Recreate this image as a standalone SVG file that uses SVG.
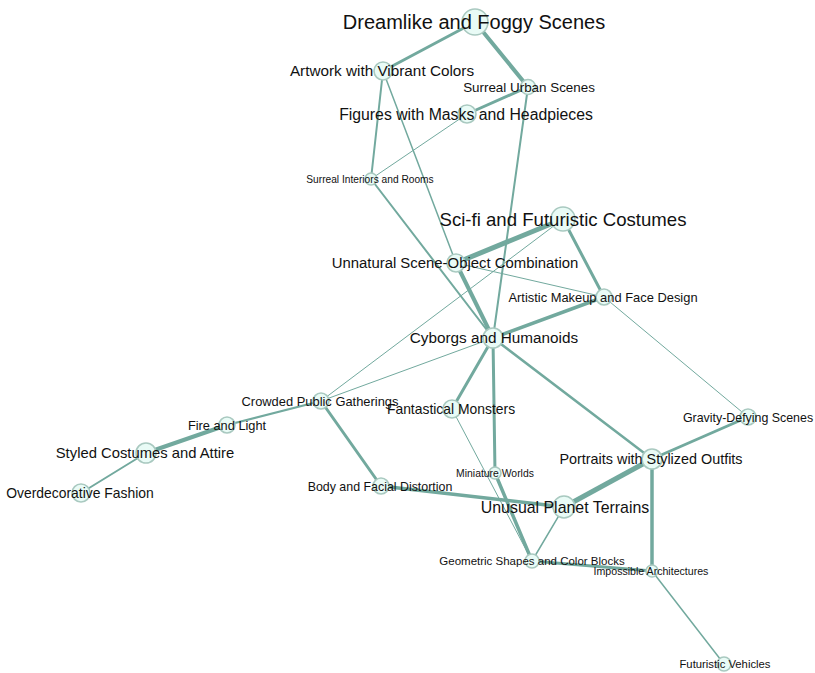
<svg xmlns="http://www.w3.org/2000/svg" width="815" height="673" viewBox="0 0 815 673">
<style>
.e{stroke:#72a99e;fill:none;stroke-linecap:round}
.w1{stroke-width:1}.w15{stroke-width:1.5}.w2{stroke-width:2}.w25{stroke-width:2.5}.w3{stroke-width:3}.w35{stroke-width:3.5}.w4{stroke-width:4}.w5{stroke-width:5}
.n circle{fill:#e9fbf6;stroke:#a9c9c0;stroke-width:1.6}
.n text{font-family:"Liberation Sans",Arial,sans-serif;fill:#111;text-anchor:middle}
</style>
<rect width="815" height="673" fill="#fff"/>
<g id="connectors">
<line class="e w3" x1="475" y1="22" x2="383" y2="71"/>
<line class="e w4" x1="475" y1="22" x2="528" y2="87"/>
<line class="e w3" x1="528" y1="87" x2="467" y2="114"/>
<line class="e w2" x1="383" y1="71" x2="371" y2="179"/>
<line class="e w15" x1="383" y1="71" x2="456" y2="263"/>
<line class="e w1" x1="371" y1="179" x2="467" y2="114"/>
<line class="e w2" x1="371" y1="179" x2="493" y2="338"/>
<line class="e w2" x1="528" y1="87" x2="493" y2="338"/>
<line class="e w5" x1="563" y1="219" x2="456" y2="263"/>
<line class="e w3" x1="563" y1="219" x2="604" y2="297"/>
<line class="e w1" x1="563" y1="219" x2="321" y2="401"/>
<line class="e w1" x1="456" y1="263" x2="604" y2="297"/>
<line class="e w4" x1="456" y1="263" x2="493" y2="338"/>
<line class="e w35" x1="604" y1="297" x2="493" y2="338"/>
<line class="e w1" x1="604" y1="297" x2="748" y2="417"/>
<line class="e w1" x1="493" y1="338" x2="321" y2="401"/>
<line class="e w3" x1="493" y1="338" x2="452" y2="409"/>
<line class="e w3" x1="493" y1="338" x2="495" y2="473"/>
<line class="e w25" x1="493" y1="338" x2="652" y2="459"/>
<line class="e w2" x1="321" y1="401" x2="227" y2="425"/>
<line class="e w4" x1="227" y1="425" x2="146" y2="453"/>
<line class="e w2" x1="146" y1="453" x2="81" y2="493"/>
<line class="e w3" x1="321" y1="401" x2="381" y2="486"/>
<line class="e w35" x1="381" y1="486" x2="564" y2="507"/>
<line class="e w1" x1="452" y1="409" x2="532" y2="561"/>
<line class="e w35" x1="495" y1="473" x2="532" y2="561"/>
<line class="e w3" x1="748" y1="417" x2="652" y2="459"/>
<line class="e w5" x1="652" y1="459" x2="564" y2="507"/>
<line class="e w35" x1="652" y1="459" x2="652" y2="571"/>
<line class="e w15" x1="564" y1="507" x2="532" y2="561"/>
<line class="e w3" x1="532" y1="561" x2="652" y2="571"/>
<line class="e w15" x1="652" y1="571" x2="724" y2="664"/>
</g>
<g id="n-dreamlike" class="n"><circle cx="475" cy="22" r="13"/><text x="474" y="29.2" font-size="20">Dreamlike and Foggy Scenes</text></g>
<g id="n-artwork" class="n"><circle cx="383" cy="71" r="9"/><text x="382" y="76.4" font-size="15.3">Artwork with Vibrant Colors</text></g>
<g id="n-urban" class="n"><circle cx="528" cy="87" r="7.5"/><text x="529" y="91.8" font-size="13.4">Surreal Urban Scenes</text></g>
<g id="n-figures" class="n"><circle cx="467" cy="114" r="9"/><text x="466" y="119.6" font-size="15.8">Figures with Masks and Headpieces</text></g>
<g id="n-interiors" class="n"><circle cx="371" cy="179" r="6"/><text x="370" y="182.6" font-size="10.2">Surreal Interiors and Rooms</text></g>
<g id="n-scifi" class="n"><circle cx="563" cy="219" r="12"/><text x="563" y="225.6" font-size="18.6">Sci-fi and Futuristic Costumes</text></g>
<g id="n-unnatural" class="n"><circle cx="456" cy="263" r="9"/><text x="455" y="268.3" font-size="14.9">Unnatural Scene-Object Combination</text></g>
<g id="n-makeup" class="n"><circle cx="604" cy="297" r="8"/><text x="603" y="301.6" font-size="12.9">Artistic Makeup and Face Design</text></g>
<g id="n-cyborgs" class="n"><circle cx="493" cy="338" r="10"/><text x="494" y="343.4" font-size="15.3">Cyborgs and Humanoids</text></g>
<g id="n-crowded" class="n"><circle cx="321" cy="401" r="8"/><text x="320" y="405.6" font-size="12.9">Crowded Public Gatherings</text></g>
<g id="n-fire" class="n"><circle cx="227" cy="425" r="8"/><text x="227" y="429.6" font-size="12.8">Fire and Light</text></g>
<g id="n-styled" class="n"><circle cx="146" cy="453" r="10"/><text x="145" y="458.3" font-size="14.8">Styled Costumes and Attire</text></g>
<g id="n-overdecorative" class="n"><circle cx="81" cy="493" r="9"/><text x="80" y="498" font-size="13.9">Overdecorative Fashion</text></g>
<g id="n-monsters" class="n"><circle cx="452" cy="409" r="9"/><text x="451" y="414" font-size="13.9">Fantastical Monsters</text></g>
<g id="n-body" class="n"><circle cx="381" cy="486" r="8"/><text x="380" y="490.5" font-size="12.4">Body and Facial Distortion</text></g>
<g id="n-miniature" class="n"><circle cx="495" cy="473" r="6"/><text x="495" y="476.7" font-size="10.4">Miniature Worlds</text></g>
<g id="n-gravity" class="n"><circle cx="748" cy="417" r="8"/><text x="748" y="421.5" font-size="12.4">Gravity-Defying Scenes</text></g>
<g id="n-portraits" class="n"><circle cx="652" cy="459" r="10"/><text x="651" y="464.1" font-size="14.4">Portraits with Stylized Outfits</text></g>
<g id="n-planet" class="n"><circle cx="564" cy="507" r="11"/><text x="565" y="512.7" font-size="15.9">Unusual Planet Terrains</text></g>
<g id="n-geometric" class="n"><circle cx="532" cy="561" r="7"/><text x="532" y="565.1" font-size="11.5">Geometric Shapes and Color Blocks</text></g>
<g id="n-impossible" class="n"><circle cx="652" cy="571" r="6"/><text x="651" y="574.8" font-size="10.6">Impossible Architectures</text></g>
<g id="n-vehicles" class="n"><circle cx="724" cy="664" r="7"/><text x="725" y="668" font-size="11.3">Futuristic Vehicles</text></g>
</svg>
